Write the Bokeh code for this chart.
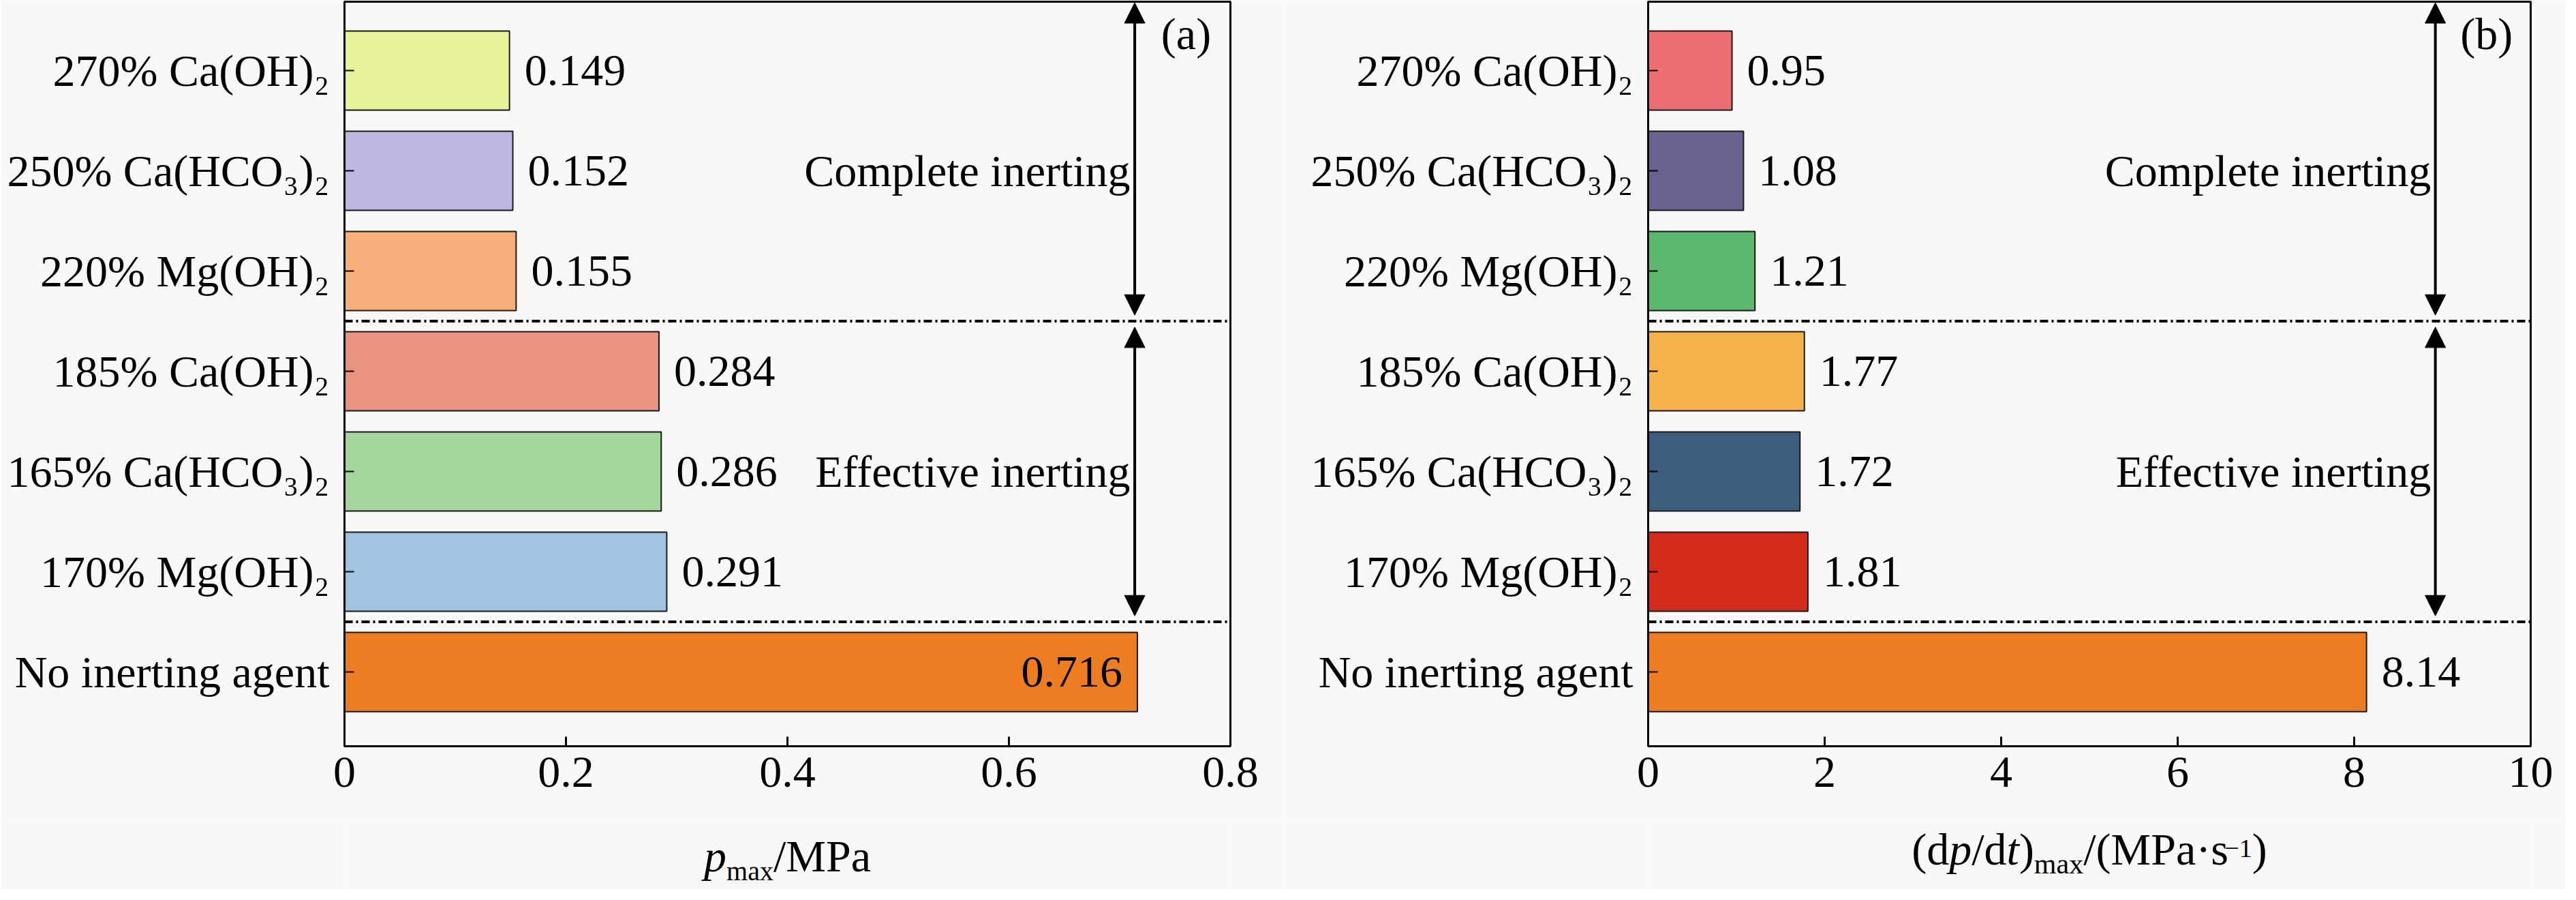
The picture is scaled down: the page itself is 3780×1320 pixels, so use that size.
from bokeh.plotting import figure
from bokeh.models import (Range1d, FixedTicker, NumeralTickFormatter, Span, Arrow,
                          NormalHead, Label, ColumnDataSource, CDSView, IndexFilter)
from bokeh.layouts import row, column
from bokeh.core.properties import value
from bokeh.embed import file_html
from bokeh.resources import INLINE

# ---------------- data (top to bottom) ----------------
categories = ["270% Ca(OH)\u2082", "250% Ca(HCO\u2083)\u2082", "220% Mg(OH)\u2082",
              "185% Ca(OH)\u2082", "165% Ca(HCO\u2083)\u2082", "170% Mg(OH)\u2082",
              "No inerting agent"]
pmax = [0.149, 0.152, 0.155, 0.284, 0.286, 0.291, 0.716]
dpdt = [0.95, 1.08, 1.21, 1.77, 1.72, 1.81, 8.14]
pmax_colors = ["#E7F29B", "#BDB7E0", "#F8B07B", "#E8937F", "#A3D69A", "#9FC3E1", "#EE7D22"]
dpdt_colors = ["#EE6E71", "#6B6290", "#5CB86E", "#F7B34B", "#3B5E7E", "#D42A1A", "#EE7D22"]
pmax_ticks = [0, 0.2, 0.4, 0.6, 0.8]
dpdt_ticks = [0, 2, 4, 6, 8, 10]
group_names = ["Complete inerting", "Effective inerting"]
group_sizes = [3, 3]

FONT = "Liberation Serif"
BG = "#F8F8F8"
N = len(categories)
ypos = [N - 1 - i for i in range(N)]

# approximate Times advance widths (em) for composing axis titles
ADV = {'(': 0.333, ')': 0.333, 'd': 0.5, 'p': 0.5, '/': 0.278, 't': 0.278, 'm': 0.778,
       'a': 0.444, 'x': 0.5, 'M': 0.889, 'P': 0.556, '\u00b7': 0.25, 's': 0.389,
       '\u2212': 0.564, '1': 0.5}


def text_width(s, size):
    return sum(ADV.get(c, 0.5) for c in s) * size


MAIN_H = 1204
TITLE_H = 100
FIG_W = 1882


def make_panel(vals, colors, ticks, fmt, tag, border_left, border_right, inside):
    xmax = ticks[-1]
    y0, y1 = -0.741, 6.687
    p = figure(width=FIG_W, height=MAIN_H, x_range=Range1d(0, xmax),
               y_range=Range1d(y0, y1), output_backend="svg", toolbar_location=None,
               min_border_left=border_left, min_border_right=border_right,
               min_border_top=2, min_border_bottom=MAIN_H - 2 - 1092)
    p.background_fill_color = BG
    p.border_fill_color = BG
    p.xgrid.visible = False
    p.ygrid.visible = False
    p.outline_line_color = "black"
    p.outline_line_width = 3
    p.outline_line_alpha = 1

    src = ColumnDataSource(dict(y=ypos, v=vals, c=colors,
                                lab=[fmt.format(v) for v in vals]))
    p.hbar(y="y", right="v", left=0, height=0.79, fill_color="c", line_color="#1a1a1a",
           line_width=2, source=src)

    out_idx = [i for i in range(N) if i not in inside]
    p.text(x="v", y="y", text="lab", source=src, view=CDSView(filter=IndexFilter(out_idx)),
           x_offset=22, text_align="left", text_baseline="middle",
           text_font=value(FONT), text_font_size=value("66px"), text_color="black")
    if inside:
        p.text(x="v", y="y", text="lab", source=src,
               view=CDSView(filter=IndexFilter(list(inside))),
               x_offset=-22, text_align="right", text_baseline="middle",
               text_font=value(FONT), text_font_size=value("66px"), text_color="black")

    # x axis
    xa = p.xaxis[0]
    xa.ticker = FixedTicker(ticks=ticks)
    xa.formatter = NumeralTickFormatter(format="0.[0]")
    xa.major_tick_in = 14
    xa.major_tick_out = 0
    xa.minor_tick_line_color = None
    xa.axis_line_width = 3
    xa.major_tick_line_width = 3
    xa.major_label_standoff = 16
    xa.major_label_text_font = FONT
    xa.major_label_text_font_size = "66px"
    xa.major_label_text_color = "black"

    # y axis
    ya = p.yaxis[0]
    ya.ticker = FixedTicker(ticks=ypos)
    ya.major_label_overrides = {ypos[i]: categories[i] for i in range(N)}
    ya.major_tick_in = 14
    ya.major_tick_out = 0
    ya.minor_tick_line_color = None
    ya.axis_line_width = 3
    ya.major_tick_line_width = 2
    ya.major_label_standoff = 22
    ya.major_label_text_font = FONT
    ya.major_label_text_font_size = "66px"
    ya.major_label_text_color = "black"

    # group separators, arrows and group names
    top = N - 0.5
    for gi, (gname, gsize) in enumerate(zip(group_names, group_sizes)):
        bottom = top - gsize
        p.add_layout(Span(location=bottom, dimension="width", line_color="black",
                          line_width=4, line_dash="12 5 3 5"))
        a_top = (y1 - 0.01) if gi == 0 else top - 0.06
        p.add_layout(Arrow(x_start=0.892 * xmax, y_start=bottom + 0.06,
                           x_end=0.892 * xmax, y_end=a_top, line_width=4,
                           line_color="black",
                           start=NormalHead(size=30, fill_color="black", line_color="black"),
                           end=NormalHead(size=30, fill_color="black", line_color="black")))
        p.add_layout(Label(x=0.887 * xmax, y=(top + bottom) / 2, text=gname,
                           text_align="right", text_baseline="middle", text_font=FONT,
                           text_font_size="66px", text_color="black"))
        top = bottom

    p.add_layout(Label(x=0.95 * xmax, y=6.37, text=tag, text_align="center",
                       text_baseline="middle", text_font=FONT, text_font_size="66px",
                       text_color="black"))
    return p


def make_title(p, pieces, border_left, border_right):
    # pieces: (text, size px, style, y of text middle in px above strip bottom)
    xmax = p.x_range.end
    t = figure(width=FIG_W, height=TITLE_H, x_range=Range1d(0, xmax),
               y_range=Range1d(0, TITLE_H), output_backend="svg", toolbar_location=None,
               min_border_left=border_left, min_border_right=border_right,
               min_border_top=0, min_border_bottom=0)
    t.axis.visible = False
    t.xgrid.visible = False
    t.ygrid.visible = False
    t.outline_line_color = None
    t.background_fill_color = BG
    t.border_fill_color = BG
    total = sum(text_width(s, z) for s, z, st, yy in pieces)
    offs, cur = [], -total / 2
    for s, z, st, yy in pieces:
        offs.append(cur)
        cur += text_width(s, z)
    src = ColumnDataSource(dict(
        x=[xmax / 2] * len(pieces), y=[yy for s, z, st, yy in pieces],
        text=[s for s, z, st, yy in pieces], xo=offs,
        size=[f"{z}px" for s, z, st, yy in pieces],
        style=[st for s, z, st, yy in pieces]))
    t.text(x="x", y="y", text="text", x_offset="xo", source=src, text_align="left",
           text_baseline="middle", text_font=value(FONT), text_font_size="size",
           text_font_style="style", text_color="black")
    return t


left_title = [("p", 66, "italic", 49), ("max", 40, "normal", 27),
              ("/MPa", 66, "normal", 49)]
right_title = [("(d", 66, "normal", 59), ("p", 66, "italic", 59),
               ("/d", 66, "normal", 59), ("t", 66, "italic", 59),
               (")", 66, "normal", 59), ("max", 42, "normal", 38),
               ("/(MPa\u00b7s", 66, "normal", 59), ("\u22121", 38, "normal", 60),
               (")", 66, "normal", 59)]

p1 = make_panel(pmax, pmax_colors, pmax_ticks, "{:.3f}", "(a)", 505, 77, [N - 1])
p2 = make_panel(dpdt, dpdt_colors, dpdt_ticks, "{:.2f}", "(b)", 536, 51, [])
t1 = make_title(p1, left_title, 505, 77)
t2 = make_title(p2, right_title, 536, 51)

layout = column(row(p1, p2), row(t1, t2))
open("out.html", "w").write(file_html(layout, INLINE, title="inerting"))
